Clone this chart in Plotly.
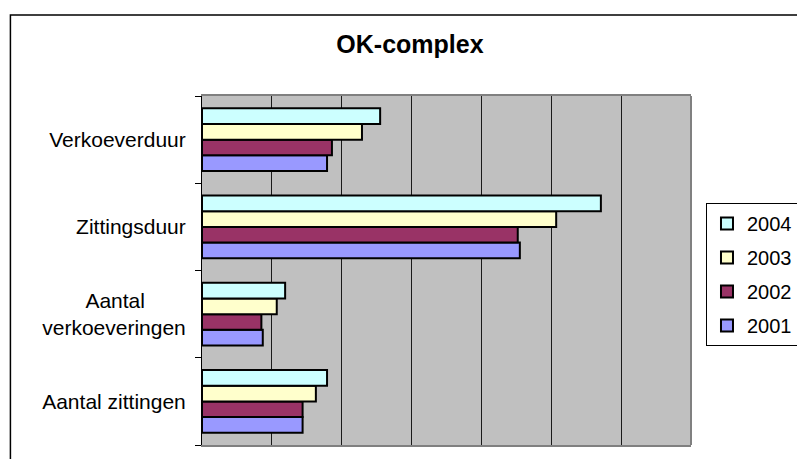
import plotly.graph_objects as go

categories = ["Aantal zittingen", "Aantal\u00a0\u00a0\u00a0\u00a0\u00a0\u00a0\u00a0<br>verkoeveringen", "Zittingsduur", "Verkoeverduur"]
years = ["2001", "2002", "2003", "2004"]
v2001 = [1.44, 0.87, 4.55, 1.79]
v2002 = [1.44, 0.85, 4.52, 1.86]
v2003 = [1.63, 1.07, 5.07, 2.29]
v2004 = [1.79, 1.19, 5.71, 2.55]
series = [v2001, v2002, v2003, v2004]
colors = ["#9999FF", "#993366", "#FFFFCC", "#CCFFFF"]

W, H = 797, 459
L, R, T, B = 201.7, 691.0, 96.0, 445.0
pw, ph = R - L, B - T

def px(x):
    return (x - L) / pw

def py(y):
    return (B - y) / ph

fig = go.Figure()
for i, (yr, vals, col) in enumerate(zip(years, series, colors)):
    fig.add_trace(go.Bar(
        y=categories, x=vals, name=yr, orientation="h",
        marker=dict(color=col, line=dict(color="black", width=2)),
        legendgroup=yr, legendrank=len(years) - i,
    ))

fig.update_layout(
    width=W, height=H,
    margin=dict(l=L, r=W - R, t=T, b=H - B, autoexpand=False),
    paper_bgcolor="white", plot_bgcolor="#C0C0C0",
    barmode="group", bargap=0.28, bargroupgap=0,
    font=dict(family="Liberation Sans, Arial", color="black"),
    title=dict(text="<b>OK-complex</b>", x=410 / W, xref="container", xanchor="center",
               y=1 - 44 / H, yref="container", yanchor="middle",
               font=dict(size=25, family="Liberation Sans, Arial", color="black")),
    xaxis=dict(range=[0, 7], dtick=1, showticklabels=False, ticks="",
               showgrid=True, gridcolor="#1a1a1a", gridwidth=1,
               showline=True, linecolor="#808080", linewidth=2, mirror=True,
               zeroline=False, fixedrange=True),
    yaxis=dict(categoryorder="array", categoryarray=categories,
               tickson="boundaries", ticks="outside", ticklen=6, tickcolor="black",
               showline=True, linecolor="black", linewidth=1,
               tickfont=dict(size=21, family="Liberation Sans, Arial", color="black"),
               ticklabelstandoff=11, showgrid=False, fixedrange=True),
    legend=dict(x=px(706), xanchor="left", y=py(203), yanchor="top",
                bordercolor="black", borderwidth=1, bgcolor="white",
                traceorder="grouped", tracegroupgap=5,
                font=dict(size=20, family="Liberation Sans, Arial", color="black"),
                itemwidth=30),
    showlegend=True,
    shapes=[
        dict(type="line", xref="paper", yref="paper", x0=1, x1=1, y0=0, y1=1,
             line=dict(color="#808080", width=2)),
        dict(type="rect", xref="paper", yref="paper",
             x0=px(10), x1=px(820), y0=py(470), y1=py(15),
             line=dict(color="black", width=1.5), fillcolor="rgba(0,0,0,0)", layer="below"),
    ],
)

fig.write_html("out.html")
